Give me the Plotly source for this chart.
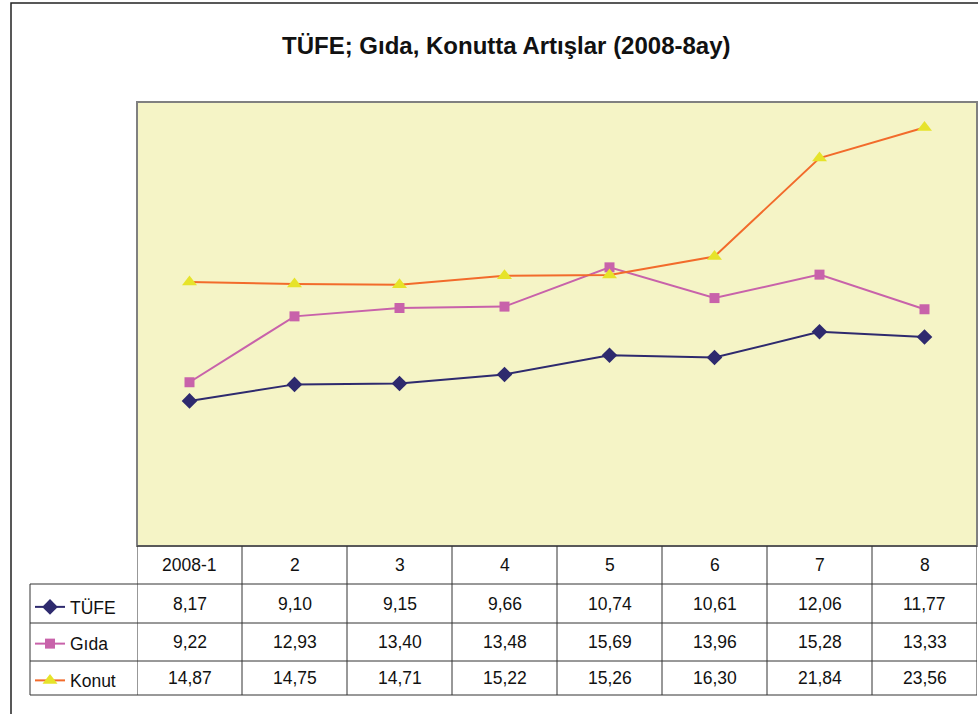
import plotly.graph_objects as go

W, H = 978, 714

categories = ["2008-1", "2", "3", "4", "5", "6", "7", "8"]
tufe = [8.17, 9.10, 9.15, 9.66, 10.74, 10.61, 12.06, 11.77]
gida = [9.22, 12.93, 13.40, 13.48, 15.69, 13.96, 15.28, 13.33]
konut = [14.87, 14.75, 14.71, 15.22, 15.26, 16.30, 21.84, 23.56]
series_names = ["TÜFE", "Gıda", "Konut"]
title_text = "TÜFE; Gıda, Konutta Artışlar (2008-8ay)"


def px(x):
    return x / W


def py(y):
    return 1 - y / H


PLOT_L, PLOT_R, PLOT_T, PLOT_B = 137, 977, 102, 546
ROW_Y = [546, 584, 623, 661, 695]
LEG_L = 30

FONT = "Liberation Sans, Arial, sans-serif"
FS = 17.5

fig = go.Figure()
x_idx = list(range(len(categories)))

styles = [
    dict(line=dict(color="#2E2A6E", width=2), marker=dict(symbol="diamond", size=12, color="#2E2A6E")),
    dict(line=dict(color="#C862AA", width=2), marker=dict(symbol="square", size=10, color="#C862AA")),
    dict(line=dict(color="#F26B2B", width=2), marker=dict(symbol="triangle-up", size=13, color="#E6E32A")),
]
for name, vals, st in zip(series_names, [tufe, gida, konut], styles):
    fig.add_trace(go.Scatter(x=x_idx, y=vals, name=name, mode="lines+markers",
                             legendgroup=name, cliponaxis=False, **st))

shapes = []
line_col = "#333333"
shapes.append(dict(type="rect", xref="paper", yref="paper", x0=px(11), x1=px(990), y0=py(730), y1=py(3),
                   line=dict(color="#222222", width=1.5), layer="below"))
shapes.append(dict(type="rect", xref="paper", yref="paper", x0=px(PLOT_L), x1=px(PLOT_R), y0=py(PLOT_B), y1=py(PLOT_T),
                   line=dict(color="#808080", width=2)))
shapes.append(dict(type="line", xref="paper", yref="paper", x0=px(PLOT_L), x1=px(PLOT_R), y0=py(ROW_Y[0]), y1=py(ROW_Y[0]),
                   line=dict(color=line_col, width=1)))
for yy in ROW_Y[1:]:
    shapes.append(dict(type="line", xref="paper", yref="paper", x0=px(LEG_L), x1=px(PLOT_R), y0=py(yy), y1=py(yy),
                       line=dict(color=line_col, width=1)))
shapes.append(dict(type="line", xref="paper", yref="paper", x0=px(LEG_L), x1=px(LEG_L), y0=py(ROW_Y[1]), y1=py(ROW_Y[-1]),
                   line=dict(color=line_col, width=1)))
for i in range(len(categories) + 1):
    shapes.append(dict(type="line", xref="x", yref="paper", x0=i - 0.5, x1=i - 0.5, y0=py(ROW_Y[0]), y1=py(ROW_Y[-1]),
                       line=dict(color=line_col, width=1)))

annotations = [dict(text="<b>" + title_text + "</b>", xref="paper", yref="paper", x=px(506), y=py(46), showarrow=False,
                    font=dict(family=FONT, size=24, color="#111111"), xanchor="center", yanchor="middle")]
for i, c in enumerate(categories):
    annotations.append(dict(text=c, xref="x", yref="paper", x=i, y=py((ROW_Y[0] + ROW_Y[1]) / 2),
                            xanchor="center", yanchor="middle",
                            showarrow=False, font=dict(family=FONT, size=FS, color="#111111")))
for r, vals in enumerate([tufe, gida, konut]):
    yc = (ROW_Y[r + 1] + ROW_Y[r + 2]) / 2
    for i, v in enumerate(vals):
        annotations.append(dict(text=f"{v:.2f}".replace(".", ","), xref="x", yref="paper", x=i, y=py(yc),
                                xanchor="center", yanchor="middle",
                                showarrow=False, font=dict(family=FONT, size=FS, color="#111111")))

fig.update_layout(
    width=W, height=H, autosize=False,
    margin=dict(l=0, r=0, t=0, b=0),
    paper_bgcolor="white", plot_bgcolor="#F5F4C6",
    xaxis=dict(domain=[px(PLOT_L), px(PLOT_R)], range=[-0.5, 7.5], visible=False, fixedrange=True),
    yaxis=dict(domain=[py(PLOT_B), py(PLOT_T)], range=[0, 25], visible=False, fixedrange=True),
    showlegend=True,
    legend=dict(x=px(LEG_L), y=py(ROW_Y[1] + 5), xanchor="left", yanchor="top",
                bgcolor="rgba(0,0,0,0)", font=dict(family=FONT, size=FS, color="#111111"),
                tracegroupgap=11, traceorder="grouped"),
    shapes=shapes, annotations=annotations,
)

fig.write_html("out.html", config={"displayModeBar": False},
               post_script="document.body.style.margin='0';document.body.style.padding='0';")
